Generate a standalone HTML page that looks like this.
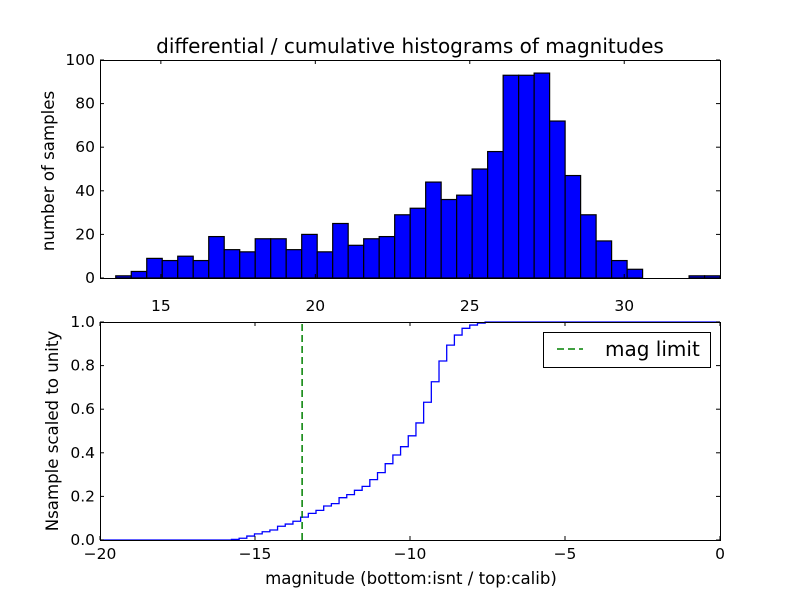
<!DOCTYPE html>
<html><head><meta charset="utf-8"><style>
body{margin:0;background:#fff;}
svg{display:block;font-family:"DejaVu Sans","Liberation Sans",sans-serif;}
</style></head><body>
<svg id="chart" width="800" height="600" viewBox="0 0 800 600">
<rect width="800" height="600" fill="#fff"/>
<text x="410" y="53" font-size="20" text-anchor="middle">differential / cumulative histograms of magnitudes</text>
<g id="top"></g>
<g id="bot"></g>
<text x="54" y="171" font-size="16.6" text-anchor="middle" transform="rotate(-90 54 171)">number of samples</text>
<text x="58" y="431" font-size="16.6" text-anchor="middle" transform="rotate(-90 58 431)">Nsample scaled to unity</text>
<text x="411" y="584" font-size="16.6" text-anchor="middle">magnitude (bottom:isnt / top:calib)</text>
<g>
<rect x="543.5" y="332.5" width="167" height="35" fill="#fff" stroke="#000"/>
<line x1="557" y1="349" x2="583" y2="349" stroke="#008000" stroke-width="1.5" stroke-dasharray="7,4"/>
<text x="605" y="356" font-size="20">mag limit</text>
</g>
</svg>
<script>
const histCounts=[1,3,9,8,10,8,19,13,12,18,18,13,20,12,25,15,18,19,29,32,44,36,38,50,58,93,93,94,72,47,29,17,8,4,0,0,0,1,1];
const histStart=13.54, histBin=0.5016;
const topXTicks=[15,20,25,30];
const topYTicks=[0,20,40,60,80,100];
const cumValues=[0.003,0.008,0.018,0.028,0.038,0.046,0.063,0.073,0.086,0.105,0.122,0.136,0.156,0.167,0.194,0.208,0.228,0.246,0.277,0.309,0.350,0.390,0.428,0.478,0.537,0.632,0.726,0.821,0.894,0.940,0.971,0.986,0.995,1.0];
const cumStart=-15.76, cumBin=0.248;
const magLimit=-13.48;
const botXTicks=[-20,-15,-10,-5,0];
const botYTicks=[0,0.2,0.4,0.6,0.8,1.0];
const NS="http://www.w3.org/2000/svg";
function mk(p,t,a){const e=document.createElementNS(NS,t);for(const k in a)e.setAttribute(k,a[k]);p.appendChild(e);return e;}
const T=document.getElementById('top');
const tx=v=>100+(v-13.03)*(620/(33.10-13.03));
const ty=v=>278-v*2.18;
histCounts.forEach((c,i)=>{
 if(c<=0)return;
 const x0=tx(histStart+i*histBin),x1=tx(histStart+(i+1)*histBin);
 const r=mk(T,'rect',{x:x0,y:ty(c),width:x1-x0,height:ty(0)-ty(c),fill:'#0000ff',stroke:'#000','stroke-width':1.2});
 
 
});
let f=mk(T,'rect',{x:100.5,y:60.5,width:620,height:218,fill:'none',stroke:'#000'});


topXTicks.forEach(v=>{const x=tx(v);
 mk(T,'line',{x1:x,y1:278,x2:x,y2:274,stroke:'#000'});mk(T,'line',{x1:x,y1:60,x2:x,y2:64,stroke:'#000'});
 const t=mk(T,'text',{x:x,y:311,'font-size':15.5,'text-anchor':'middle'});t.textContent=v;
 
 });
topYTicks.forEach(v=>{const y=ty(v);
 mk(T,'line',{x1:100,y1:y,x2:104,y2:y,stroke:'#000'});mk(T,'line',{x1:720,y1:y,x2:716,y2:y,stroke:'#000'});
 const t=mk(T,'text',{x:95,y:y+5,'font-size':15.5,'text-anchor':'end'});t.textContent=v;
 
 });
const B=document.getElementById('bot');
const bx=v=>100+(v+20)*31;
const by=v=>540-v*218;
let d='M'+bx(-20)+','+by(0)+' H'+bx(cumStart);
cumValues.forEach((v,i)=>{d+=' V'+by(v)+' H'+(i==cumValues.length-1?bx(0):bx(cumStart+(i+1)*cumBin));});
const p=mk(B,'path',{d:d,fill:'none',stroke:'#0000ff','stroke-width':1.3});


const ml=mk(B,'line',{x1:bx(magLimit),y1:by(0),x2:bx(magLimit),y2:by(1),stroke:'#008000','stroke-width':1.5,'stroke-dasharray':'7,4'});


f=mk(B,'rect',{x:100.5,y:322.5,width:620,height:218,fill:'none',stroke:'#000'});


botXTicks.forEach(v=>{const x=bx(v);
 mk(B,'line',{x1:x,y1:540,x2:x,y2:536,stroke:'#000'});mk(B,'line',{x1:x,y1:322,x2:x,y2:326,stroke:'#000'});
 const t=mk(B,'text',{x:x,y:559,'font-size':15.5,'text-anchor':'middle'});t.textContent=v<0?'\u2212'+(-v):v;
 
 });
botYTicks.forEach(v=>{const y=by(v);
 mk(B,'line',{x1:100,y1:y,x2:104,y2:y,stroke:'#000'});mk(B,'line',{x1:720,y1:y,x2:716,y2:y,stroke:'#000'});
 const t=mk(B,'text',{x:95,y:y+5,'font-size':15.5,'text-anchor':'end'});t.textContent=v.toFixed(1);
 
 });
</script>
</body></html>
